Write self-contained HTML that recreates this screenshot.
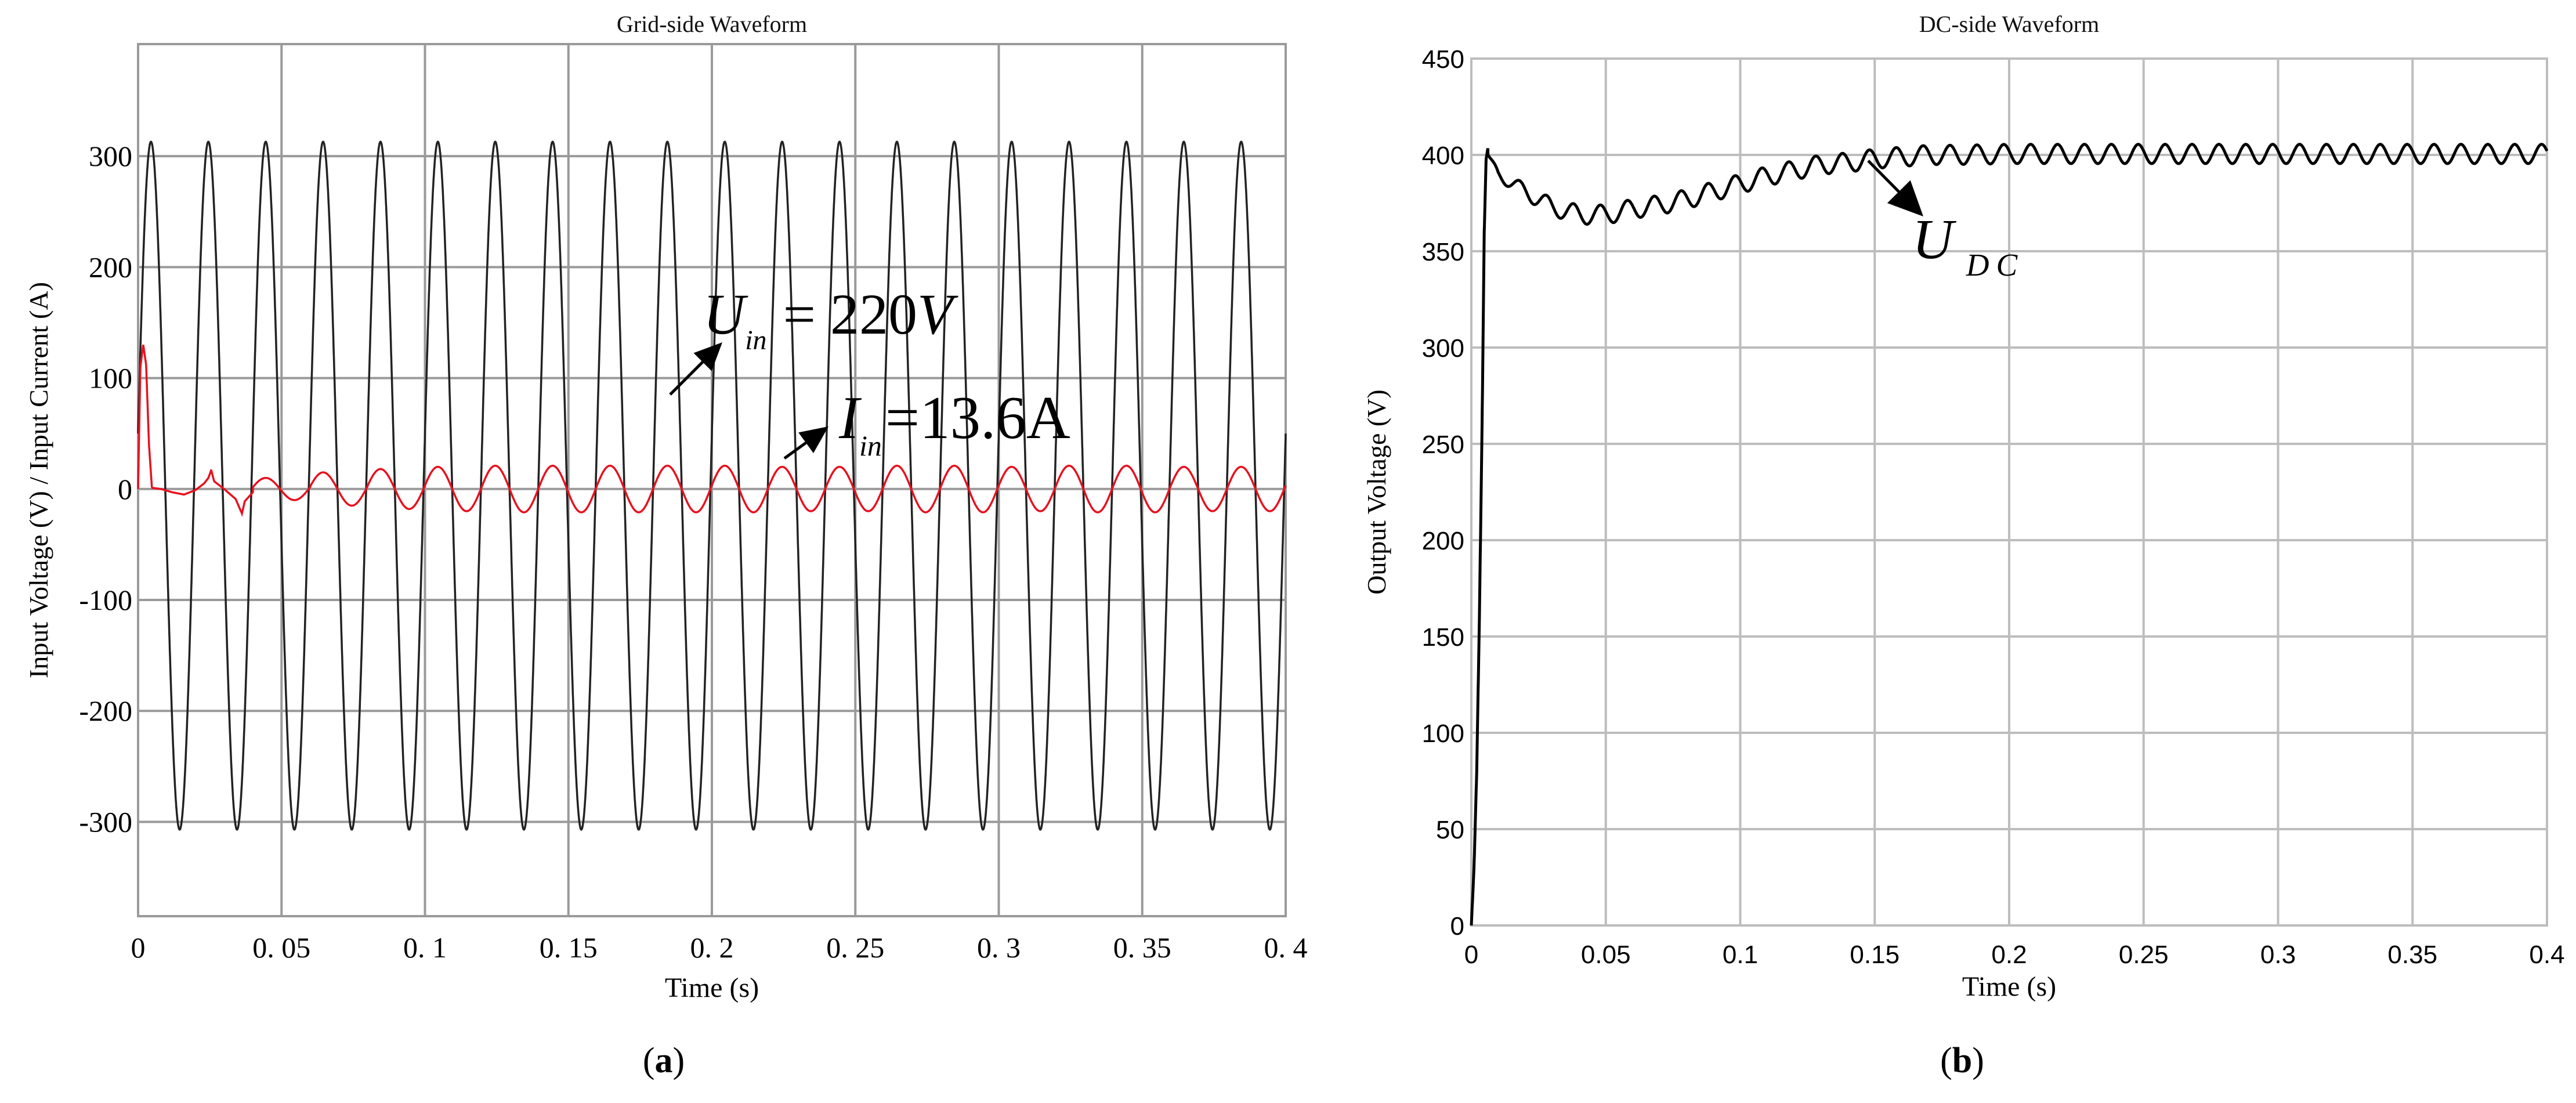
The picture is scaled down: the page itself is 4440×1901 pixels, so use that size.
<!DOCTYPE html>
<html><head><meta charset="utf-8"><style>
html,body{margin:0;padding:0;background:#fff;}
svg{display:block;}
</style></head><body>
<svg id="fig" width="4440" height="1901" viewBox="0 0 4440 1901" xmlns="http://www.w3.org/2000/svg">
<rect width="4440" height="1901" fill="#fff"/>
<g id="chartA"></g>
<g id="chartB"></g>
</svg>
<script>
// ---- Chart (a) data ----
const xTicksA = [0,0.05,0.1,0.15,0.2,0.25,0.3,0.35,0.4];
const xTickLabelsA = ["0","0. 05","0. 1","0. 15","0. 2","0. 25","0. 3","0. 35","0. 4"];
const yTicksA = [300,200,100,0,-100,-200,-300];
const yTickLabelsA = ["300","200","100","0","-100","-200","-300"];
const gridFreqHz = 50;
const voltagePeak = [313,313,313,313,313,313,313,313,313,313,313,313,313,313,313,313,313,313,313,313];
const voltageTrough = [-307,-307,-307,-307,-307,-307,-307,-307,-307,-307,-307,-307,-307,-307,-307,-307,-307,-307,-307,-307];
const voltageStart = 50;
const currentTransientT = [0,0.0008,0.0018,0.0028,0.0038,0.0048,0.005,0.008,0.012,0.016,0.02,0.023,0.0245,0.0255,0.0265,0.03,0.034,0.0355,0.0362,0.0372,0.04];
const currentTransientV = [0,110,130,112,40,2,1,0,-3,-5,-1,5,10,17,7,0,-9,-18,-22,-11,-3];
const currentAmp = [10,15,18,20,21,21,21,21,21,20,20,21,21,20,21,21,20,20];
// ---- Chart (b) data ----
const xTicksB = [0,0.05,0.1,0.15,0.2,0.25,0.3,0.35,0.4];
const xTickLabelsB = ["0","0.05","0.1","0.15","0.2","0.25","0.3","0.35","0.4"];
const yTicksB = [0,50,100,150,200,250,300,350,400,450];
const yTickLabelsB = ["0","50","100","150","200","250","300","350","400","450"];
const dcStartT = [0,0.001,0.002,0.003,0.004,0.0048,0.0055,0.0062];
const dcStartV = [0,30,80,160,260,360,398,404];
const dcMeanT = [0.0062,0.01,0.02,0.03,0.04,0.05,0.06,0.07,0.08,0.09,0.1,0.11,0.12,0.13,0.14,0.15,0.16,0.17,0.18,0.2,0.4];
const dcMeanV = [400,390,381,373,369,369,372,374,377,381,385,389,392,395,396,398,399,400,400,400.5,400.5];
const dcRipple = [0,3,4,4.5,5,5,5,5,5,5,5,5,5,5,5,5,5,5,5,5,5];
const rippleFreqHz = 100;

const NS="http://www.w3.org/2000/svg";
function mk(parent,tag,attrs,name,inter){const e=document.createElementNS(NS,tag);for(const k in attrs)e.setAttribute(k,attrs[k]);


parent.appendChild(e);return e;}
function interp(ts,vs,t){if(t<=ts[0])return vs[0];for(let i=1;i<ts.length;i++){if(t<=ts[i]){const f=(t-ts[i-1])/(ts[i]-ts[i-1]);return vs[i-1]+f*(vs[i]-vs[i-1]);}}return vs[vs.length-1];}

// ===== Chart A =====
(function(){
const g=document.getElementById('chartA');
const L=238,R=2216,T=76,B=1579,ymin=-385,ymax=401;
const sx=t=>L+(t-0)/(0.4)*(R-L);
const sy=v=>B-(v-ymin)/(ymax-ymin)*(B-T);
mk(g,'text',{x:(L+R)/2,y:55,'font-family':'Liberation Serif, serif','font-size':40,'text-anchor':'middle',fill:'#111'},'chart-title',false).textContent='Grid-side Waveform';
xTicksA.forEach((t,i)=>{mk(g,'line',{x1:sx(t),x2:sx(t),y1:T,y2:B,stroke:'#9a9a9a','stroke-width':4},'x-gridline',false);
mk(g,'text',{x:sx(t),y:1650,'font-family':'Liberation Serif, serif','font-size':50,'text-anchor':'middle',fill:'#000'},'x-tick-label',false).textContent=xTickLabelsA[i];});
yTicksA.forEach((v,i)=>{mk(g,'line',{x1:L,x2:R,y1:sy(v),y2:sy(v),stroke:'#9a9a9a','stroke-width':4},'y-gridline',false);
mk(g,'text',{x:L-10,y:sy(v)+17,'font-family':'Liberation Serif, serif','font-size':50,'text-anchor':'end',fill:'#000'},'y-tick-label',false).textContent=yTickLabelsA[i];});
mk(g,'rect',{x:L,y:T,width:R-L,height:B-T,fill:'none',stroke:'#9a9a9a','stroke-width':4},'plot-frame',false);
mk(g,'text',{x:(L+R)/2,y:1718,'font-family':'Liberation Serif, serif','font-size':48,'text-anchor':'middle',fill:'#000'},'x-axis-title',false).textContent='Time (s)';
mk(g,'text',{x:0,y:0,transform:'translate(82,'+((T+B)/2)+') rotate(-90)','font-family':'Liberation Serif, serif','font-size':46,'text-anchor':'middle',fill:'#000'},'y-axis-title',false).textContent='Input  Voltage (V) / Input  Current (A)';
let d='';const N=6000;
const phase0=Math.asin(voltageStart/313);
for(let i=0;i<=N;i++){const t=0.4*i/N;const th=2*Math.PI*gridFreqHz*t+phase0;const c=Math.min(voltagePeak.length-1,Math.floor(t*gridFreqHz));const s=Math.sin(th);const v=s>=0?s*voltagePeak[c]:-s*voltageTrough[c];d+=(i?'L':'M')+sx(t).toFixed(1)+' '+sy(v).toFixed(1);}
mk(g,'path',{d:d,fill:'none',stroke:'#222','stroke-width':3.5},'input-voltage-line',false);
let dc='';
for(let i=0;i<=N;i++){const t=0.4*i/N;let v;
if(t<=0.04){v=interp(currentTransientT,currentTransientV,t);}
else{const c=Math.min(currentAmp.length-1,Math.floor((t-0.04)*gridFreqHz));v=currentAmp[c]*Math.sin(2*Math.PI*gridFreqHz*t+phase0);}
dc+=(i?'L':'M')+sx(t).toFixed(1)+' '+sy(v).toFixed(1);}
mk(g,'path',{d:dc,fill:'none',stroke:'#e8101e','stroke-width':3.5},'input-current-line',false);
function arrow(x1,y1,x2,y2,name){const a=Math.atan2(y2-y1,x2-x1),hl=48,hw=22;
const bx=x2-hl*Math.cos(a),by=y2-hl*Math.sin(a);
mk(g,'line',{x1:x1,y1:y1,x2:bx,y2:by,stroke:'#000','stroke-width':5},name,false);
mk(g,'polygon',{points:`${x2},${y2} ${bx+hw*Math.sin(a)},${by-hw*Math.cos(a)} ${bx-hw*Math.sin(a)},${by+hw*Math.cos(a)}`,fill:'#000'},name+'-head',false);}
arrow(1155,680,1245,590,'uin-arrow');
arrow(1352,790,1428,735,'iin-arrow');
const t1=mk(g,'text',{x:1212,y:575,'font-family':'Liberation Serif, serif','font-size':100,fill:'#000'},'uin-label',false);
t1.innerHTML='<tspan font-style="italic">U</tspan><tspan font-style="italic" font-size="48" dy="27">in</tspan><tspan dy="-27" dx="28">= 220</tspan><tspan font-style="italic">V</tspan>';
const t2=mk(g,'text',{x:1446,y:755,'font-family':'Liberation Serif, serif','font-size':105,fill:'#000'},'iin-label',false);
t2.innerHTML='<tspan font-style="italic">I</tspan><tspan font-style="italic" font-size="50" dy="30">in</tspan><tspan dy="-30" dx="6">=13.6A</tspan>';
mk(g,'text',{x:1144,y:1848,'font-family':'Liberation Serif, serif','font-size':62,'text-anchor':'middle',fill:'#000'},'panel-label-a',false).innerHTML='(<tspan font-weight="bold">a</tspan>)';
})();

// ===== Chart B =====
(function(){
const g=document.getElementById('chartB');
const L=2536,R=4390,T=101,B=1595,ymin=0,ymax=450;
const sx=t=>L+t/0.4*(R-L);
const sy=v=>B-(v-ymin)/(ymax-ymin)*(B-T);
mk(g,'text',{x:(L+R)/2,y:55,'font-family':'Liberation Serif, serif','font-size':40,'text-anchor':'middle',fill:'#111'},'chart-title',false).textContent='DC-side  Waveform';
xTicksB.forEach((t,i)=>{mk(g,'line',{x1:sx(t),x2:sx(t),y1:T,y2:B,stroke:'#bdbdbd','stroke-width':4},'x-gridline',false);
mk(g,'text',{x:sx(t),y:1660,'font-family':'Liberation Sans, sans-serif','font-size':44,'text-anchor':'middle',fill:'#000'},'x-tick-label',false).textContent=xTickLabelsB[i];});
yTicksB.forEach((v,i)=>{mk(g,'line',{x1:L,x2:R,y1:sy(v),y2:sy(v),stroke:'#bdbdbd','stroke-width':4},'y-gridline',false);
mk(g,'text',{x:L-12,y:sy(v)+16,'font-family':'Liberation Sans, sans-serif','font-size':44,'text-anchor':'end',fill:'#000'},'y-tick-label',false).textContent=yTickLabelsB[i];});
mk(g,'rect',{x:L,y:T,width:R-L,height:B-T,fill:'none',stroke:'#bdbdbd','stroke-width':4},'plot-frame',false);
mk(g,'text',{x:(L+R)/2,y:1716,'font-family':'Liberation Serif, serif','font-size':48,'text-anchor':'middle',fill:'#000'},'x-axis-title',false).textContent='Time (s)';
mk(g,'text',{x:0,y:0,transform:'translate(2388,'+((T+B)/2)+') rotate(-90)','font-family':'Liberation Serif, serif','font-size':46,'text-anchor':'middle',fill:'#000'},'y-axis-title',false).textContent='Output Voltage (V)';
let d='';const N=6000;
for(let i=0;i<=N;i++){const t=0.4*i/N;let v;
if(t<=dcStartT[dcStartT.length-1]){v=interp(dcStartT,dcStartV,t);}
else{const m=interp(dcMeanT,dcMeanV,t);const a=interp(dcMeanT,dcRipple,t);v=m+a*Math.cos(2*Math.PI*rippleFreqHz*(t-0.008));}
d+=(i?'L':'M')+sx(t).toFixed(1)+' '+sy(v).toFixed(1);}
mk(g,'path',{d:d,fill:'none',stroke:'#000','stroke-width':5},'dc-voltage-line',false);
const x1=3220,y1=277,x2=3315,y2=373;const a=Math.atan2(y2-y1,x2-x1),hl=60,hw=28;
const bx=x2-hl*Math.cos(a),by=y2-hl*Math.sin(a);
mk(g,'line',{x1:x1,y1:y1,x2:bx,y2:by,stroke:'#000','stroke-width':5},'udc-arrow',false);
mk(g,'polygon',{points:`${x2},${y2} ${bx+hw*Math.sin(a)},${by-hw*Math.cos(a)} ${bx-hw*Math.sin(a)},${by+hw*Math.cos(a)}`,fill:'#000'},'udc-arrow-head',false);
const t=mk(g,'text',{x:3296,y:445,'font-family':'Liberation Serif, serif','font-size':98,'font-style':'italic',fill:'#000'},'udc-label',false);
t.innerHTML='U<tspan font-size="55" dy="30" dx="22" letter-spacing="12">DC</tspan>';
mk(g,'text',{x:3382,y:1848,'font-family':'Liberation Serif, serif','font-size':62,'text-anchor':'middle',fill:'#000'},'panel-label-b',false).innerHTML='(<tspan font-weight="bold">b</tspan>)';
})();
</script>
</body></html>
